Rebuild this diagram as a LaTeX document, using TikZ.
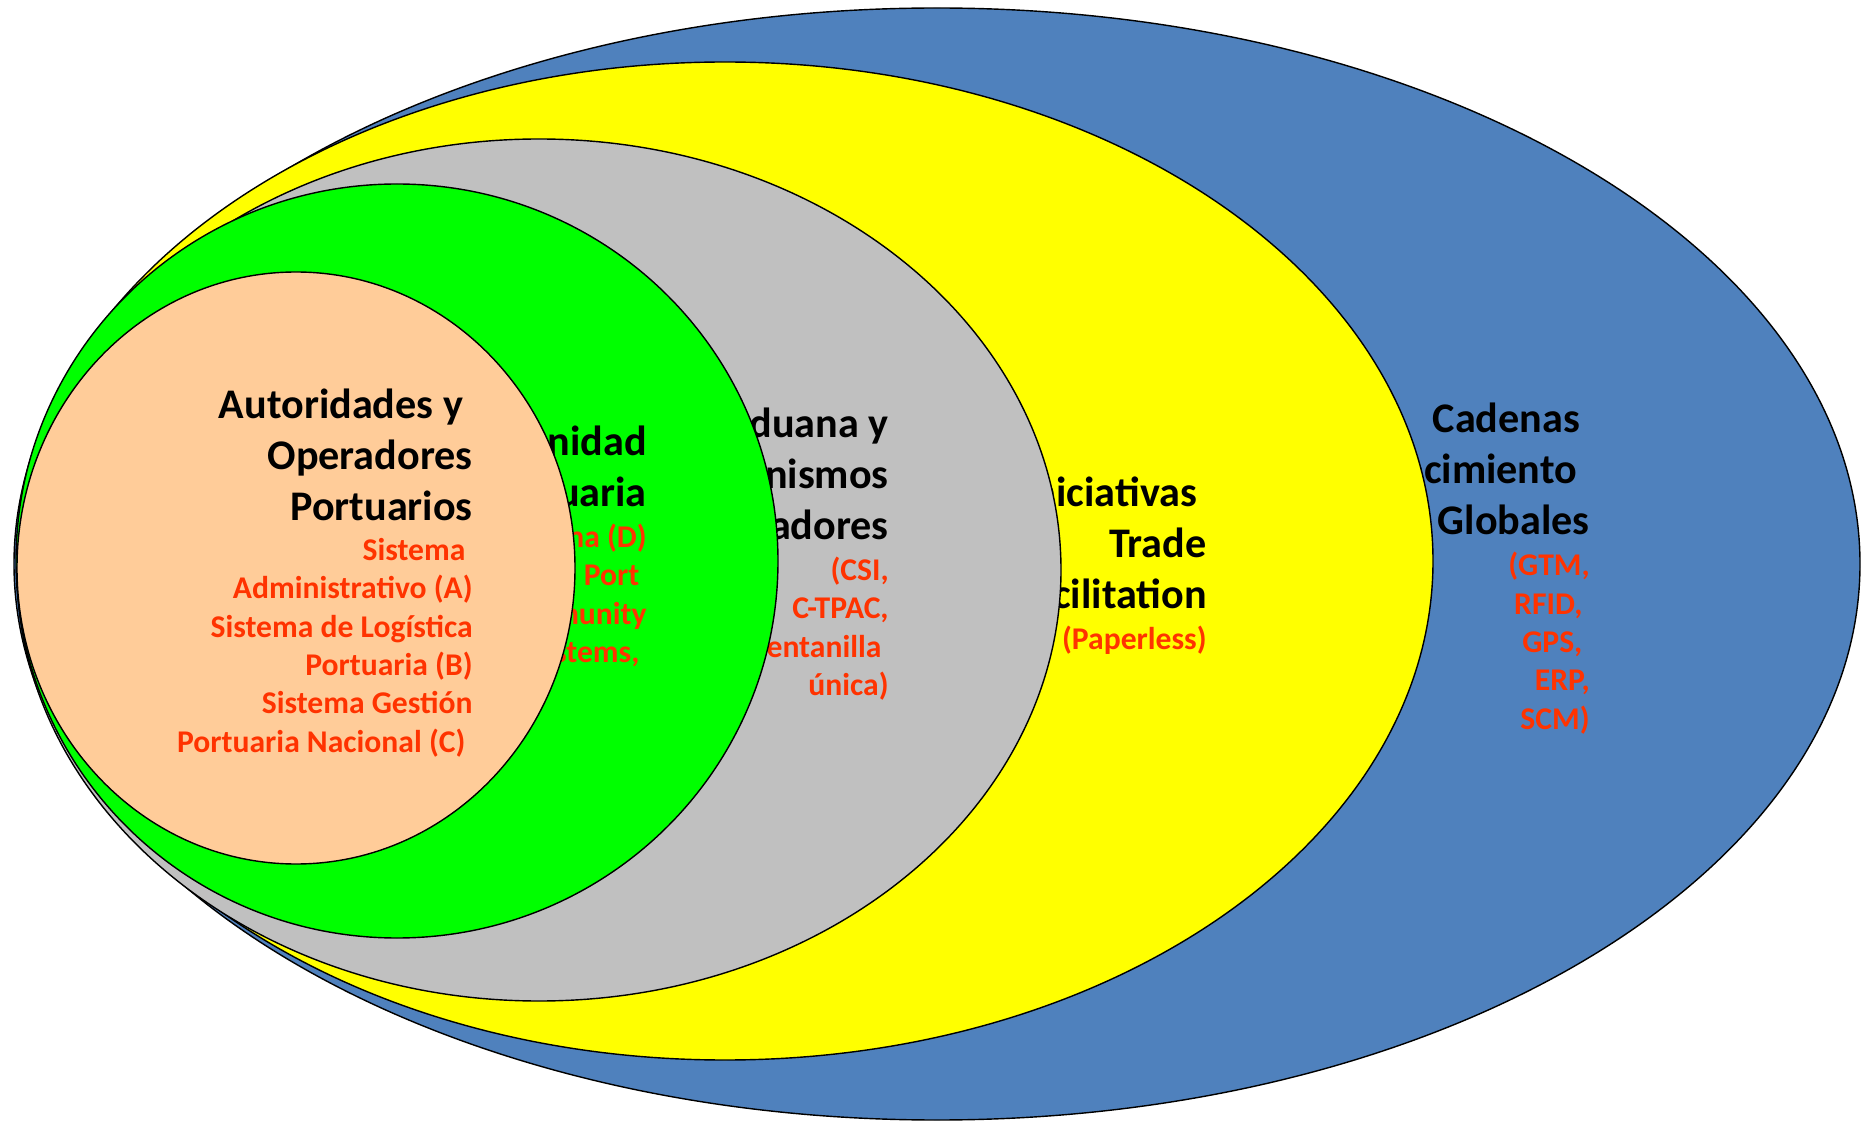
\documentclass[tikz,border=0pt]{standalone}
\usepackage{fontspec}
\setmainfont{Carlito}
\usepackage{tikz}
\usetikzlibrary{positioning}

\definecolor{blueRing}{HTML}{4F81BD}
\definecolor{yellowRing}{HTML}{FFFF00}
\definecolor{grayRing}{HTML}{C0C0C0}
\definecolor{greenRing}{HTML}{00FF00}
\definecolor{peachRing}{HTML}{FFCC99}
\definecolor{toolRed}{HTML}{FF3300}

\newcommand\tsp{\kern0.23em}

\begin{document}
\begin{tikzpicture}[x=0.02cm, y=-0.02cm]
    % Define styles
    \tikzset{ring/.style={draw=black, line width=0.8pt}}
    \tikzset{title/.style={anchor=north east, inner sep=0pt, align=right, text=black,
        font=\bfseries\fontsize{24}{29.1}\selectfont}}
    \tikzset{tools/.style={anchor=north east, inner sep=0pt, align=right, text=toolRed,
        font=\bfseries\fontsize{18}{21.85}\selectfont}}

    \useasboundingbox[fill=white] (0,0) rectangle (1863,1121);

    % Outer ring - global supply chains
    \draw[ring, fill=blueRing] (937,564) ellipse [x radius=923, y radius=556];
    \node[title] (cadenas) at (1590,396) {\strut Cadenas\tsp\\Abastecimiento\kern0.3em\\Globales};
    \node[tools] (cadenasTools) at (1590,548.5) {\strut(GTM,\\RFID,\tsp\\GPS,\tsp\\ERP,\\SCM)};

    % Trade facilitation
    \draw[ring, fill=yellowRing] (725,561) ellipse [x radius=708, y radius=499];
    \node[title] (trade) at (1207,470) {\strut Iniciativas\tsp\\Trade\\Facilitation};
    \node[tools] (tradeTools) at (1207,622) {\strut(Paperless)};

    % Customs
    \draw[ring, fill=grayRing] (539,570) ellipse [x radius=522, y radius=431];
    \node[title] (aduana) at (889,401) {\strut Aduana y\\Organismos\\Fiscalizadores};
    \node[tools] (aduanaTools) at (889,553) {\strut(CSI,\\C-TPAC,\\Ventanilla\tsp\\única)};

    % Port community
    \draw[ring, fill=greenRing] (397,561) ellipse [x radius=381, y radius=377];
    \node[title] (comunidad) at (647,419) {\strut Comunidad\\Portuaria};
    \node[tools] (comunidadTools) at (647,520) {\strut Plataforma (D)\\Port\tsp\\Community\\Systems,\tsp};

    % Port authorities and operators
    \draw[ring, fill=peachRing] (296,568) ellipse [x radius=279, y radius=296];
    \node[title] (autoridades) at (473,382) {\strut Autoridades y\tsp\\Operadores\\Portuarios};
    \node[tools] (autoridadesTools) at (473,533) {\strut Sistema\tsp\\Administrativo (A)\\Sistema de Logística\\Portuaria (B)\\Sistema Gestión\\Portuaria Nacional (C)\tsp};
\end{tikzpicture}
\end{document}
